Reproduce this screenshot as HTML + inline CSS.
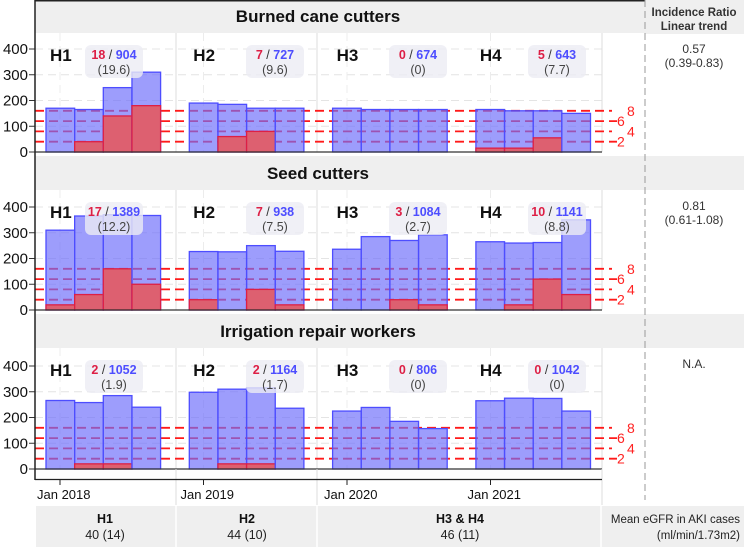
<!DOCTYPE html>
<html><head><meta charset="utf-8"><style>
body{margin:0;background:#fff;font-family:"Liberation Sans",sans-serif}
svg{display:block}
</style></head><body>
<svg id="c" width="744" height="547" xmlns="http://www.w3.org/2000/svg" font-family="Liberation Sans, sans-serif"></svg>
<script>
const panelTitles = ["Burned cane cutters","Seed cutters","Irrigation repair workers"];
const periods = ["H1","H2","H3","H4"];
const totals = [
 [[170,165,250,310],[190,185,170,170],[170,165,165,165],[165,160,160,150]],
 [[310,365,370,367],[227,226,250,228],[236,285,270,292],[265,260,262,350]],
 [[266,258,285,240],[298,310,315,236],[225,239,185,157],[265,275,274,225]]
];
const cases = [
 [[0,40,140,180],[0,60,80,0],[0,0,0,0],[15,15,55,0]],
 [[20,60,160,100],[40,0,80,20],[0,0,40,20],[0,20,120,60]],
 [[0,20,20,0],[0,20,20,0],[0,0,0,0],[0,0,0,0]]
];
const caseCounts = [[18,7,0,5],[17,7,3,10],[2,2,0,0]];
const workerCounts = [[904,727,674,643],[1389,938,1084,1141],[1052,1164,806,1042]];
const rates = [["19.6","9.6","0","7.7"],["12.2","7.5","2.7","8.8"],["1.9","1.7","0","0"]];
const irr = [["0.57","(0.39-0.83)"],["0.81","(0.61-1.08)"],["N.A.",""]];
const yTicks = [0,100,200,300,400];
const refLevels = [2,4,6,8];
const xTickLabels = ["Jan 2018","Jan 2019","Jan 2020","Jan 2021"];
const egfr = [["H1","40 (14)"],["H2","44 (10)"],["H3 & H4","46 (11)"]];

const svg = document.getElementById('c');
const NS = "http://www.w3.org/2000/svg";
function el(tag, attrs, parent, text){
  const e = document.createElementNS(NS, tag);
  for (const k in attrs) e.setAttribute(k, attrs[k]);
  if (text !== undefined) e.textContent = text;
  (parent||svg).appendChild(e);
  return e;
}
const panels = [{top:-1,y0:152},{top:156,y0:310},{top:314,y0:469}];
const K = 0.2575;
function xBar(h,q){ return 46 + h*143.3 + q*28.65; }
function yv(p,v){ return panels[p].y0 - v*K; }

let e = el('rect',{x:645,y:0,width:99,height:34,fill:'#efefef'});
 
e = el('text',{x:694,y:16,'text-anchor':'middle','font-size':11.5,'font-weight':'bold',fill:'#333'},svg,'Incidence Ratio');
 
el('text',{x:694,y:30,'text-anchor':'middle','font-size':11.5,'font-weight':'bold',fill:'#333'},svg,'Linear trend');

for (let p=0;p<3;p++){
  const P = panels[p];
  const g = el('g',{});
   
  e = el('rect',{x:35,y:P.top,width:610,height:34,fill:'#efefef'},g);
   
  if (p>0){ el('rect',{x:645,y:P.top,width:99,height:34,fill:'#efefef'},g); }
  e = el('text',{x:318,y:P.top+23,'text-anchor':'middle','font-size':17,'font-weight':'bold',fill:'#111'},g,panelTitles[p]);
   
  yTicks.forEach(t=>{ if(t>0) el('line',{x1:35,x2:602,y1:yv(p,t),y2:yv(p,t),stroke:'#e4e4e4','stroke-dasharray':'8 5'},g); });
  for (let i=0;i<4;i++) el('line',{x1:60+i*143.5,x2:60+i*143.5,y1:P.top+34,y2:P.y0,stroke:'#ececec','stroke-dasharray':'8 5'},g);
  [176,317,602].forEach(x=>el('line',{x1:x,x2:x,y1:P.top+34,y2:P.y0,stroke:'#ddd'},g));
  yTicks.forEach(t=>{
    el('line',{x1:29,x2:35,y1:yv(p,t),y2:yv(p,t),stroke:'#333'},g);
    e = el('text',{x:28,y:yv(p,t)+5,'text-anchor':'end','font-size':15,fill:'#111'},g,String(t));
     
  });
  refLevels.forEach((lv,i)=>{
    const y = yv(p,lv*20);
    e = el('line',{x1:35,x2:(i%2===0)?617:612,y1:y,y2:y,stroke:'#ff1a1a','stroke-width':1.8,'stroke-dasharray':'9 5'},g);
     
    e = el('text',{x:(i%2===0)?617:627,y:y+5,'font-size':14,fill:'#ff2222'},g,String(lv));
     
  });
  for (let h=0;h<4;h++){
    for (let q=0;q<4;q++){
      const x = xBar(h,q), v = totals[p][h][q];
      e = el('rect',{x:x,y:yv(p,v),width:28.65,height:v*K,fill:'rgba(110,110,250,0.68)',stroke:'#4d4dff','stroke-width':1.3},g);
       
      const c = cases[p][h][q];
      if (c>0){
        e = el('rect',{x:x,y:yv(p,c),width:28.65,height:c*K,fill:'#dd6070',stroke:'#dd1f45','stroke-width':1.3},g);
         
      }
    }
    e = el('text',{x:50+h*143.3,y:P.top+62,'font-size':17,'font-weight':'bold',fill:'#111'},g,periods[h]);
     
    const cx = [114,275,418,557][h];
    e = el('rect',{x:cx-29,y:P.top+46,width:58,height:33,rx:6,fill:'rgba(236,236,244,0.8)'},g);
     
    const t = el('text',{x:cx,y:P.top+60,'text-anchor':'middle','font-size':12.5,'font-weight':'bold'},g);
    el('tspan',{fill:'#dd1f45'},t,String(caseCounts[p][h]));
    el('tspan',{fill:'#333','font-weight':'normal'},t,' / ');
    el('tspan',{fill:'#4d4dff'},t,String(workerCounts[p][h]));
    el('text',{x:cx,y:P.top+75,'text-anchor':'middle','font-size':12.5,fill:'#444'},g,'('+rates[p][h]+')');
  }
  el('line',{x1:35,x2:602,y1:P.y0,y2:P.y0,stroke:'#333','stroke-width':1.2},g);
  e = el('text',{x:694,y:P.top+54,'text-anchor':'middle','font-size':12,fill:'#333'},g,irr[p][0]);
   
  el('text',{x:694,y:P.top+68,'text-anchor':'middle','font-size':12,fill:'#333'},g,irr[p][1]);
}
el('line',{x1:35,x2:35,y1:0,y2:480,stroke:'#222','stroke-width':1.5});
el('line',{x1:35,x2:645,y1:0.75,y2:0.75,stroke:'#222','stroke-width':1.5});
el('line',{x1:645,x2:645,y1:0,y2:500,stroke:'#999','stroke-dasharray':'7 4'});
el('line',{x1:176,x2:176,y1:469,y2:505,stroke:'#ddd'});
el('line',{x1:317,x2:317,y1:469,y2:505,stroke:'#ddd'});
el('line',{x1:602,x2:602,y1:469,y2:505,stroke:'#ddd'});
e = el('line',{x1:35,x2:602,y1:479.5,y2:479.5,stroke:'#222','stroke-width':1.3});
 
xTickLabels.forEach((l,i)=>{
  const x = 60+i*143.5;
  el('line',{x1:x,x2:x,y1:480,y2:485,stroke:'#222'});
  e = el('text',{x:x-23,y:499,'font-size':13,fill:'#111'},svg,l);
   
});
e = el('rect',{x:36,y:506,width:708,height:41,fill:'#efefef'});
 
[176,317,601].forEach(x=>el('line',{x1:x,x2:x,y1:506,y2:547,stroke:'#fff','stroke-width':1.5}));
[[105,0],[247,1],[460,2]].forEach(([x,i])=>{
  el('text',{x:x,y:523,'text-anchor':'middle','font-size':12.5,'font-weight':'bold',fill:'#111'},svg,egfr[i][0]);
  el('text',{x:x,y:539,'text-anchor':'middle','font-size':12.5,fill:'#222'},svg,egfr[i][1]);
});
el('text',{x:740,y:523,'text-anchor':'end','font-size':11.5,fill:'#222'},svg,'Mean eGFR in AKI cases');
el('text',{x:740,y:539,'text-anchor':'end','font-size':11.5,fill:'#222'},svg,'(ml/min/1.73m2)');
</script>
</body></html>
